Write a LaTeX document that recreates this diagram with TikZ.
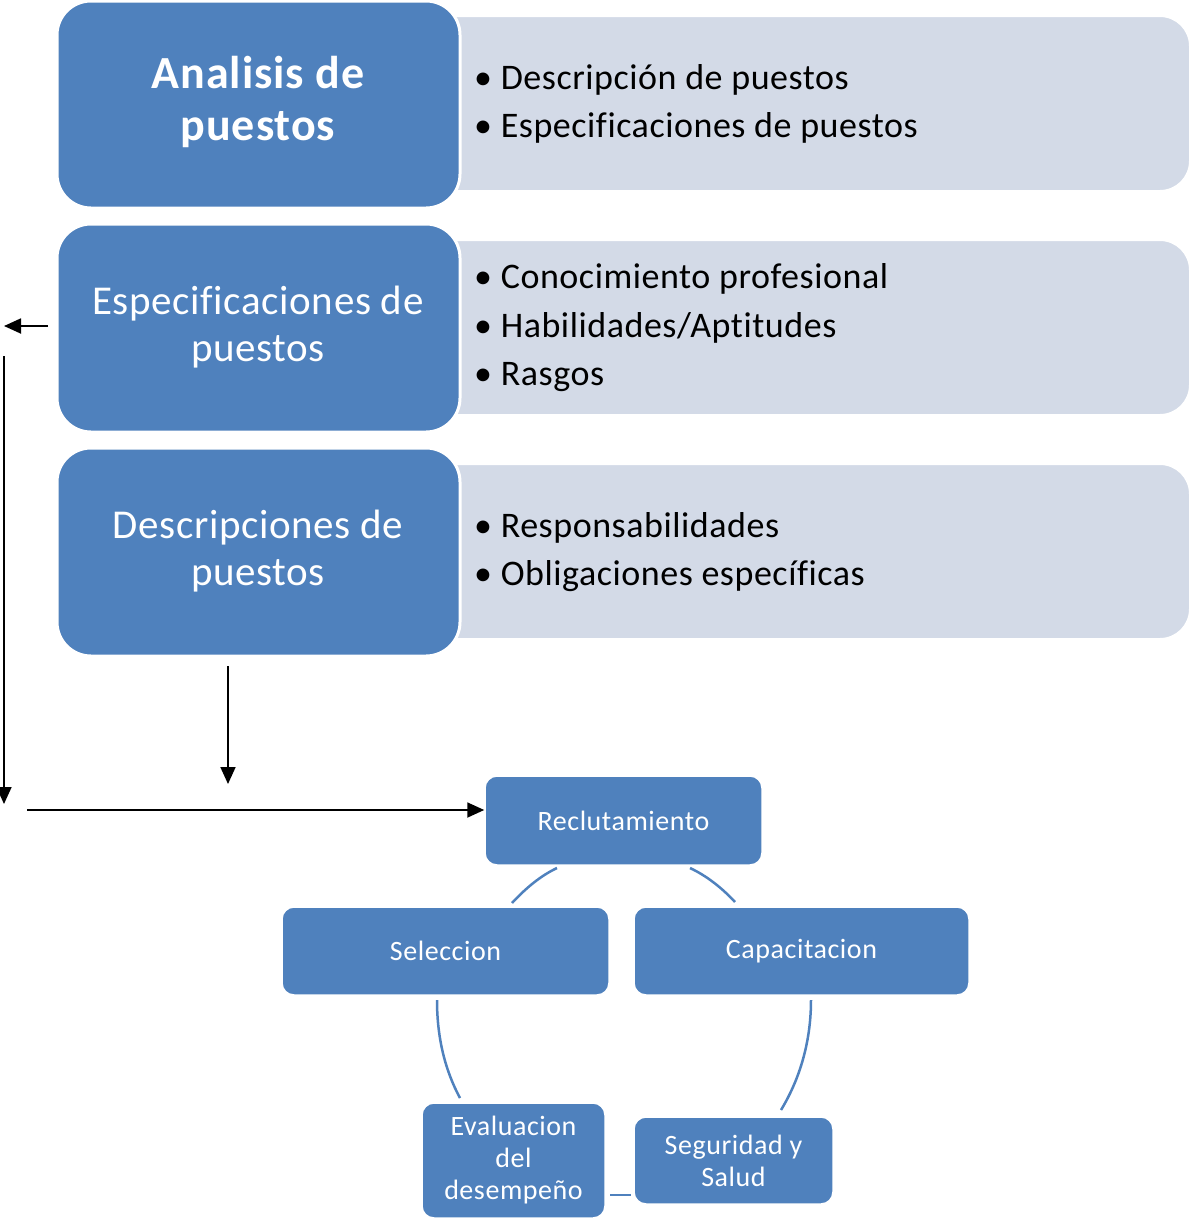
\documentclass[tikz,border=0pt]{standalone}
\usepackage{fontspec}
\setmainfont{Carlito}[Ligatures=CommonOff]
\usetikzlibrary{arrows.meta}
\definecolor{sablue}{HTML}{4F81BD}
\definecolor{salight}{HTML}{D3DAE7}
\begin{document}
\begin{tikzpicture}[x=1pt,y=-1pt,
  bigbox/.style={fill=sablue,draw=white,line width=3pt,rounded corners=34pt},
  lightbox/.style={fill=salight,draw=white,line width=2pt,rounded corners=30pt},
  cyclebox/.style={fill=sablue,draw=white,line width=1.5pt,rounded corners=12pt,text=white,align=center,inner sep=0pt,font=\fontsize{28}{32}\selectfont\addfontfeature{LetterSpace=2}},
  bigtext/.style={text=white,align=center,font=\fontsize{41}{47}\selectfont\addfontfeature{LetterSpace=1.5}},
  bullettext/.style={anchor=west,align=left,font=\fontsize{36}{48.5}\selectfont\addfontfeature{LetterSpace=1.5},inner sep=0pt},
  arr/.style={line width=1.8pt,-{Triangle[length=17pt,width=15pt]}},
  cyc/.style={sablue,line width=2.5pt}]
\useasboundingbox (0,0) rectangle (1191,1219);
% light boxes
\draw[lightbox] (400,16) rectangle (1190,191);
\draw[lightbox] (400,240) rectangle (1190,415);
\draw[lightbox] (400,464) rectangle (1190,639);
% blue boxes
\draw[bigbox] (57,1) rectangle (460,208);
\draw[bigbox] (57,224) rectangle (460,432);
\draw[bigbox] (57,448) rectangle (460,656);
\node[bigtext,font=\fontsize{46}{52}\selectfont\bfseries\addfontfeature{LetterSpace=2}] (ap) at (258,102) {Analisis de\\puestos};
\node[bigtext] (ep) at (258,327) {Especificaciones de\\puestos};
\node[bigtext] (dp) at (258,551) {Descripciones de\\puestos};
\node[bullettext] (l1) at (474,104) {\textbullet\ Descripción de puestos\\\textbullet\ Especificaciones de puestos};
\node[bullettext] (l2) at (474,328) {\textbullet\ Conocimiento profesional\\\textbullet\ Habilidades/Aptitudes\\\textbullet\ Rasgos};
\node[bullettext] (l3) at (474,552) {\textbullet\ Responsabilidades\\\textbullet\ Obligaciones específicas};
% cycle boxes
\node[cyclebox,minimum width=277pt,minimum height=89pt] (rec) at (623.5,820.5) {Reclutamiento};
\node[cyclebox,minimum width=327pt,minimum height=88pt] (sel) at (445.5,951) {Seleccion};
\node[cyclebox,minimum width=335pt,minimum height=88pt] (cap) at (801.5,951) {Capacitacion};
\node[cyclebox,minimum width=183pt,minimum height=115pt] (eva) at (513.5,1160.5) {Evaluacion\\del\\desempeño};
\node[cyclebox,minimum width=199pt,minimum height=87pt] (seg) at (733.5,1160.5) {Seguridad y\\Salud};
% arrows
\coordinate (a1s) at (48,326);
\coordinate (a1e) at (4,326);
\coordinate (a2s) at (4,356);
\coordinate (a2e) at (4,804);
\coordinate (a3s) at (228,666);
\coordinate (a3e) at (228,784);
\coordinate (a4s) at (27,810);
\draw[arr] (a1s) -- (a1e);
\draw[arr] (a2s) -- (a2e);
\draw[arr] (a3s) -- (a3e);
\draw[arr] (a4s) -- (a4s -| rec.west);
% cycle arcs
\coordinate (c1a) at (557,868); \coordinate (c1b) at (512,903);
\coordinate (c2a) at (690,868); \coordinate (c2b) at (735,902);
\coordinate (c3a) at (437,1000); \coordinate (c3b) at (460,1098);
\coordinate (c4a) at (811,1000); \coordinate (c4b) at (781,1110);
\coordinate (c5a) at (610,1195); \coordinate (c5b) at (631,1195);
\draw[cyc] (c1a) .. controls (540,876) and (525,889) .. (c1b);
\draw[cyc] (c2a) .. controls (707,876) and (722,888) .. (c2b);
\draw[cyc] (c3a) .. controls (437,1040) and (446,1072) .. (c3b);
\draw[cyc] (c4a) .. controls (811,1045) and (798,1082) .. (c4b);
\draw[cyc] (c5a) -- (c5b);
\end{tikzpicture}
\end{document}
